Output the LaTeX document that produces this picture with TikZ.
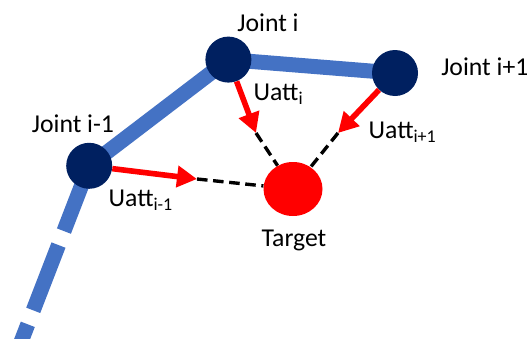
\documentclass[tikz,border=0pt]{standalone}
\usepackage{fontspec}
\setmainfont{Carlito}
\usepackage{xcolor}
\usetikzlibrary{arrows.meta,shapes.geometric,positioning}
\definecolor{linkblue}{HTML}{4472C4}
\definecolor{jointnavy}{HTML}{002060}

\tikzset{
  joint/.style={circle,fill=jointnavy,minimum size=1.15cm,inner sep=0pt},
  link/.style={linkblue,line width=0.375cm},
  uatt/.style={red,line width=4pt,-{Triangle[length=0.5cm,width=0.52cm]}},
  aim/.style={black,line width=2.4pt,dash pattern=on 7.5pt off 4pt},
  lbl/.style={font=\fontsize{18.3}{22}\selectfont,inner sep=0pt},
}

\begin{document}
\begin{tikzpicture}
  \useasboundingbox (0,0) rectangle (13.175,8.45);
  \clip (0,0) rectangle (13.175,8.45);

  % ---- arm: joint centres and links ----
  \coordinate (cim1) at (2.23,4.305);
  \coordinate (ci)   at (5.71,6.96);
  \coordinate (cip1) at (9.875,6.625);
  \coordinate (armend) at (0.35,-0.55);
  \draw[link] (cim1) -- (ci) -- (cip1);
  \draw[link,dash pattern=on 1.75cm off 0.375cm] (cim1) -- (armend);

  \node[joint] (jim1) at (cim1) {};
  \node[joint] (ji)   at (ci) {};
  \node[joint] (jip1) at (cip1) {};
  \node[ellipse,fill=red,minimum width=1.475cm,minimum height=1.35cm,inner sep=0pt]
    (target) at (7.325,3.725) {};

  % ---- attraction vectors ----
  \coordinate (tipa) at (4.925,3.975);
  \coordinate (tipb) at (6.4,5.125);
  \coordinate (tipc) at (8.45,5.125);
  \draw[aim] (tipa) -- (target);
  \draw[aim] (tipb) -- (target);
  \draw[aim] (tipc) -- (target);
  \draw[uatt] (jim1) -- (tipa);
  \draw[uatt] (ji) -- (tipb);
  \draw[uatt] (jip1) -- (tipc);

  % ---- labels ----
  \node[lbl,anchor=base] (lji) at (6.7,7.6625) {Joint i};
  \node[lbl,anchor=base west] (ljip1) at (11.025,6.5675) {Joint i+1};
  \node[lbl,anchor=base west] (ljim1) at (0.79,5.1325) {Joint i-1};
  \node[lbl,anchor=base west] (lui) at (6.333,5.95) {Uatt\textsubscript{i}};
  \node[lbl,anchor=base west] (luip1) at (9.21,4.99) {Uatt\textsubscript{i+1}};
  \node[lbl,anchor=base west] (luim1) at (2.71,3.3) {Uatt\textsubscript{i-1}};
  \node[lbl,anchor=base] (ltarget) at (7.35,2.283) {Target};
\end{tikzpicture}
\end{document}
